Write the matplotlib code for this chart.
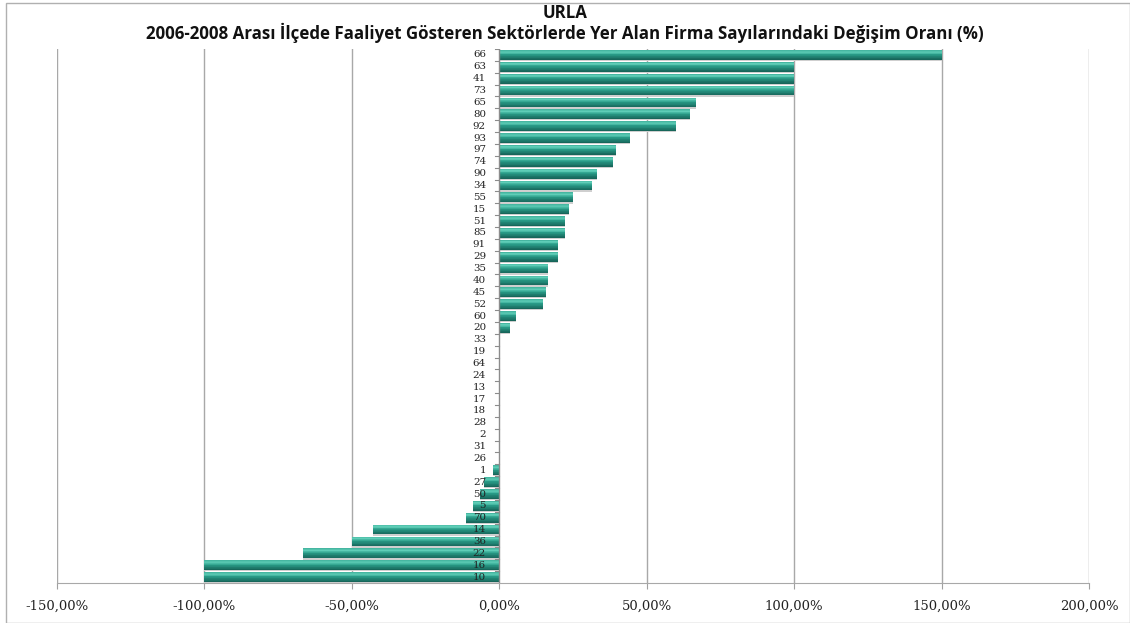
import matplotlib
matplotlib.use("Agg")
import matplotlib.pyplot as plt
import numpy as np

categories = ["66", "63", "41", "73", "65", "80", "92", "93", "97", "74", "90", "34",
              "55", "15", "51", "85", "91", "29", "35", "40", "45", "52", "60", "20",
              "33", "19", "64", "24", "13", "17", "18", "28", "2", "31", "26", "1",
              "27", "50", "5", "70", "14", "36", "22", "16", "10"]
values = [150.0, 100.0, 100.0, 100.0, 66.67, 64.7, 60.0, 44.2, 39.6, 38.7, 33.0, 31.3,
          25.0, 23.5, 22.2, 22.2, 20.0, 20.0, 16.67, 16.67, 16.0, 15.0, 5.6, 3.7,
          0, 0, 0, 0, 0, 0, 0, 0, 0, 0, 0, -2.0,
          -5.2, -6.5, -8.8, -11.3, -42.8, -50.0, -66.67, -100.0, -100.0]
xticks = [-150, -100, -50, 0, 50, 100, 150, 200]
title1 = "URLA"
title2 = "2006-2008 Arası İlçede Faaliyet Gösteren Sektörlerde Yer Alan Firma Sayılarındaki Değişim Oranı (%)"

fig = plt.figure(figsize=(11.3, 6.23), dpi=100)
fig.patch.set_facecolor("white")
ax = fig.add_axes([0.0504, 0.0642, 0.9133, 0.8571])

n = len(categories)
y = np.arange(n)[::-1]
vals = np.array(values)

# soft shadow
ax.barh(y - 0.1, vals, height=0.84, color="#cfcfcf", zorder=2, linewidth=0)
# gradient bar built from thin stripes (bottom dark -> top light)
bar_h = 0.82
stripes = 14
c_bottom = np.array([0x16, 0x62, 0x57]) / 255
c_mid = np.array([0x29, 0x9c, 0x88]) / 255
c_top = np.array([0x62, 0xd0, 0xba]) / 255
for i in range(stripes):
    t = (i + 0.5) / stripes
    if t < 0.55:
        c = c_bottom + (c_mid - c_bottom) * (t / 0.55)
    elif t < 0.8:
        c = c_mid + (c_top - c_mid) * ((t - 0.55) / 0.25)
    else:
        c = c_top + (c_mid - c_top) * ((t - 0.8) / 0.2) * 0.6
    off = -bar_h / 2 + (i + 0.5) * bar_h / stripes
    ax.barh(y + off, vals, height=bar_h / stripes * 1.05, color=c, zorder=3, linewidth=0)

ax.set_xlim(-150, 200)
ax.set_ylim(-0.5, n - 0.5)
ax.set_xticks(xticks)
ax.set_xticklabels([f"{v:.2f}%".replace(".", ",") for v in xticks],
                   family="DejaVu Serif", fontsize=9.5, color="#222222")
ax.tick_params(axis="x", length=4, color="#a0a0a0", pad=8)
ax.set_yticks([])

for v in xticks:
    if v != 0:
        ax.axvline(v, color="#a8a8a8", linewidth=1.0, zorder=1)
ax.axvline(0, color="#8c8c8c", linewidth=1.0, zorder=6)

# category labels next to zero axis
for yi, lab in zip(y, categories):
    ax.text(-4.5, yi, lab, ha="right", va="center", family="DejaVu Serif",
            fontsize=7.4, color="#222222", zorder=7)
# tick marks between categories on the zero axis
for k in range(n + 1):
    ax.plot([-1.6, 0], [k - 0.5, k - 0.5], color="#8c8c8c", linewidth=0.8, zorder=6)

for s in ["top", "right", "left"]:
    ax.spines[s].set_visible(False)
ax.spines["bottom"].set_color("#a8a8a8")
ax.spines["bottom"].set_zorder(6)

fig.text(0.5, 1 - 13 / 623, title1, ha="center", va="center",
         family="Open Sans", fontweight="bold", fontsize=12.2, color="#111111")
fig.text(0.5, 1 - 33 / 623, title2, ha="center", va="center",
         family="Open Sans", fontweight="bold", fontsize=12.2, color="#111111")

# figure border
border = plt.Rectangle((6 / 1130, 0), 1 - 6 / 1130, 1 - 3 / 623, transform=fig.transFigure,
                       fill=False, edgecolor="#b0b0b0", linewidth=1.0)
fig.patches.append(border)

fig.savefig("out.png", dpi=100, facecolor="white")
